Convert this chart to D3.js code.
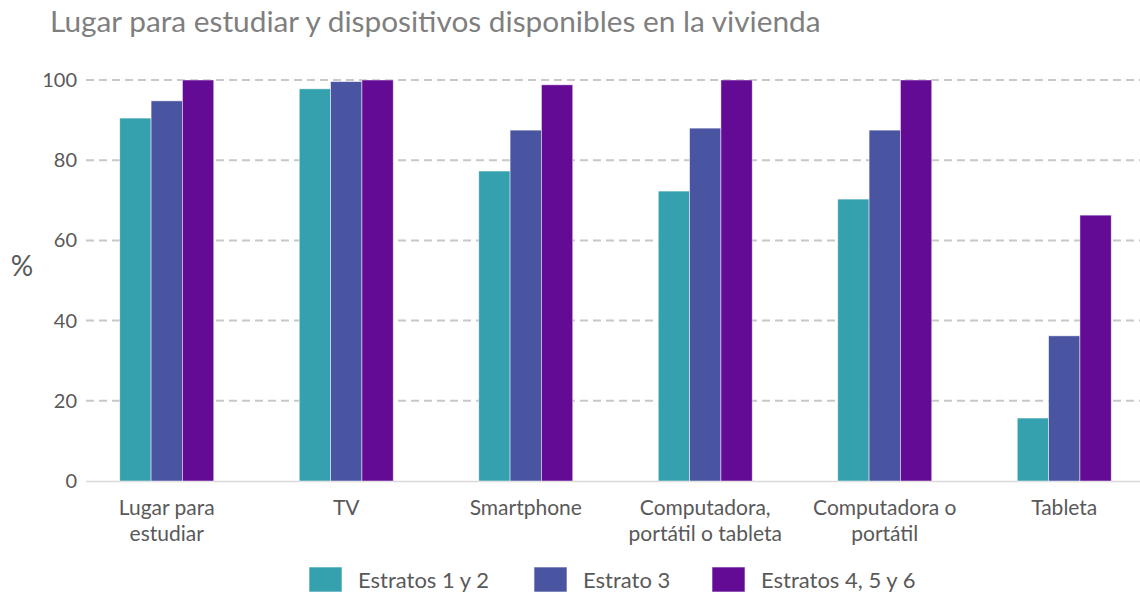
<!DOCTYPE html>
<html>
  <head>
    <meta charset="utf-8">
    <script src="https://cdn.jsdelivr.net/npm/d3@7/dist/d3.min.js"></script>
    <style>
      body { margin: 0; background: #fff; }
      text { font-family: Lato, "Open Sans", sans-serif; }
      .grid line { stroke: #c8c8c8; stroke-width: 2px; stroke-dasharray: 8, 5; }
      .tick-label { fill: #595959; font-size: 22px; }
    </style>
  </head>
  <body>
    <script>
      const categories = ['Lugar para\nestudiar', 'TV', 'Smartphone', 'Computadora,\nportátil o tableta', 'Computadora o\nportátil', 'Tableta'];
      const seriesNames = ['Estratos 1 y 2', 'Estrato 3', 'Estratos 4, 5 y 6'];
      const colors = ['#35a0ae', '#4a55a2', '#630b95'];
      const estratos12 = [90.5, 97.8, 77.3, 72.3, 70.3, 15.7];
      const estrato3 = [94.8, 99.6, 87.5, 88.0, 87.5, 36.2];
      const estratos456 = [100, 100, 98.8, 100, 100, 66.3];
      const yTicks = [0, 20, 40, 60, 80, 100];

      const width = 1140;
      const height = 595;
      const series = [estratos12, estrato3, estratos456];

      const svg = d3.select('body')
        .append('svg')
        .attr('width', width)
        .attr('height', height);

      const x = d3.scaleBand()
        .domain(categories)
        .range([77, 1154]);

      const groupW = 94;
      const xs = d3.scaleBand()
        .domain(d3.range(series.length))
        .range([0, groupW]);

      const y = d3.scaleLinear()
        .domain([0, 100])
        .range([481, 80]);

      // title
      svg.append('text')
        .attr('x', 50)
        .attr('y', 32)
        .style('font-size', '29.8px')
        .style('fill', '#7f7f7f')
        .text('Lugar para estudiar y dispositivos disponibles en la vivienda');

      // gridlines
      svg.append('g')
        .attr('class', 'grid')
        .selectAll('line')
        .data(yTicks.filter(d => d > 0))
        .enter()
        .append('line')
        .attr('x1', 86)
        .attr('x2', 1140)
        .attr('y1', d => y(d))
        .attr('y2', d => y(d));

      svg.append('line')
        .attr('x1', 86)
        .attr('x2', 1140)
        .attr('y1', y(0) + 0.5)
        .attr('y2', y(0) + 0.5)
        .style('stroke', '#d9d9d9')
        .style('stroke-width', '1.5px');

      svg.selectAll('.ylab')
        .data(yTicks)
        .enter()
        .append('text')
        .attr('class', 'tick-label')
        .attr('x', 77)
        .attr('y', d => y(d))
        .attr('dy', '0.35em')
        .attr('text-anchor', 'end')
        .style('font-size', '20px')
        .text(d => d);

      svg.append('text')
        .attr('x', 22)
        .attr('y', 266)
        .attr('dy', '0.35em')
        .attr('text-anchor', 'middle')
        .style('font-size', '28px')
        .style('fill', '#595959')
        .text('%');

      // bars
      series.forEach((vals, si) => {
        svg.append('g')
          .selectAll('rect')
          .data(vals)
          .enter()
          .append('rect')
          .attr('x', (d, i) => x(categories[i]) + x.bandwidth() / 2 - groupW / 2 + xs(si))
          .attr('y', d => y(d))
          .attr('width', xs.bandwidth())
          .attr('height', d => y(0) - y(d))
          .style('fill', colors[si])
          .style('stroke', '#ffffff')
          .style('stroke-opacity', 0.6)
          .style('stroke-width', 0.8);
      });

      // category labels, one text per line
      const catLines = categories.flatMap(d => d.split('\n').map((t, i) => ({t, d, i})));
      svg.selectAll('.cat')
        .data(catLines)
        .enter()
        .append('text')
        .attr('class', 'tick-label')
        .attr('text-anchor', 'middle')
        .style('font-size', '21px')
        .attr('x', p => x(p.d) + x.bandwidth() / 2)
        .attr('y', p => 515 + p.i * 25.5)
        .text(p => p.t);

      // legend
      const legendX = [309, 534, 712];
      const lg = svg.selectAll('.lg')
        .data(seriesNames)
        .enter()
        .append('g')
        .attr('transform', (d, i) => `translate(${legendX[i]},567)`);
      lg.append('rect')
        .attr('width', 33)
        .attr('height', 25)
        .style('fill', (d, i) => colors[i])
        .style('stroke', '#ffffff')
        .style('stroke-opacity', 0.6);
      lg.append('text')
        .attr('class', 'tick-label')
        .attr('x', 49)
        .attr('y', 13)
        .attr('dy', '0.35em')
        .text(d => d);
    </script>
  </body>
</html>
